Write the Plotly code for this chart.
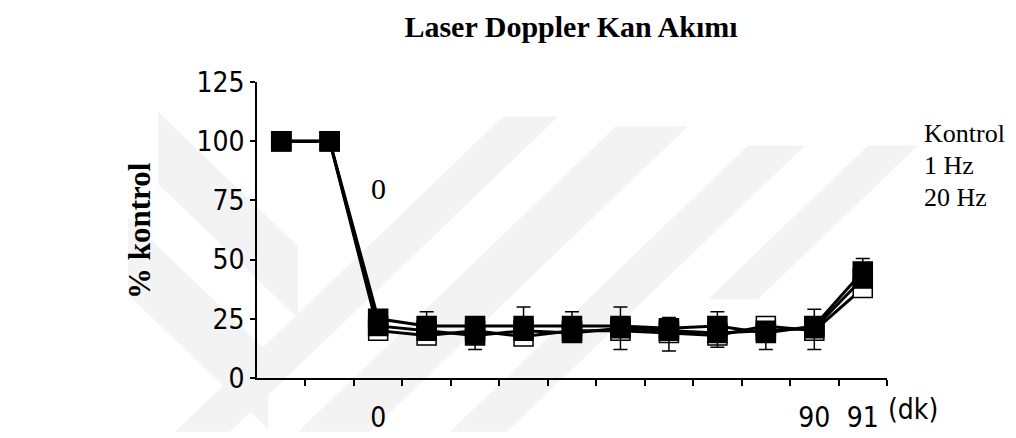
import plotly.graph_objects as go

# ---------------- data ----------------
categories = ["K1", "K2", "0", "10", "20", "30", "40", "50", "60", "70", "80", "90", "91"]
shown_labels = ["0", "90", "91"]

kontrol = [100, 100, 20, 18, 20, 17.5, 20, 20, 19, 18, 22, 20, 38]
hz1 = [100, 100, 22, 20, 18, 20, 19, 21, 20, 19, 20, 21, 42]
hz20 = [100, 100, 25, 22, 22, 22, 22, 22, 21, 22, 19, 22, 45]

hz20_err_up = [0, 0, 0, 6, 0, 8, 6, 8, 4.5, 6, 0, 7, 5.5]
hz1_err_down = [0, 0, 0, 0, 6, 0, 0, 9, 8.6, 6, 8, 9, 0]
zeros = [0] * len(categories)

y_ticks = [0, 25, 50, 75, 100, 125]
series_names = ["Kontrol", "1 Hz", "20 Hz"]

# ---------------- figure ----------------
W, H = 1016, 438
ML, MR, MT, MB = 249, 137, 74, 56
xpos = list(range(len(categories)))

fig = go.Figure()

def add_series(y, name, fill, err_up, err_down):
    fig.add_trace(go.Scatter(
        x=xpos, y=y, name=name, mode="lines+markers",
        line=dict(color="black", width=3),
        marker=dict(symbol="square", size=19, color=fill,
                    line=dict(color="black", width=1.5)),
        error_y=dict(type="data", symmetric=False, array=err_up,
                     arrayminus=err_down, color="black",
                     thickness=1.5, width=7),
        showlegend=False,
    ))

add_series(kontrol, series_names[0], "white", zeros, zeros)
add_series(hz1, series_names[1], "black", zeros, hz1_err_down)
add_series(hz20, series_names[2], "black", hz20_err_up, zeros)

# watermark (very light diagonal bands), pixel space -> paper
def px(xp, yp):
    return (xp - ML) / (W - ML - MR), (H - MB - yp) / (H - MT - MB)

def band(points):
    pts = [px(a, b) for a, b in points]
    path = "M " + " L ".join(f"{a:.4f},{b:.4f}" for a, b in pts) + " Z"
    fig.add_shape(type="path", path=path, xref="paper", yref="paper",
                  fillcolor="#f3f3f3", line=dict(width=0), layer="below")

def slash_band(c1, c2, ytop, ybot):
    band([(c1 - ytop, ytop), (c2 - ytop, ytop), (c2 - ybot, ybot), (c1 - ybot, ybot)])

def back_band(d1, d2, x0, x1):
    band([(x0, x0 - d1), (x1, x1 - d1), (x1, x1 - d2), (x0, x0 - d2)])

slash_band(605, 660, 110, 438)
slash_band(728, 800, 120, 438)
slash_band(880, 937, 140, 438)
slash_band(1000, 1050, 140, 300)
back_band(45, -30, 150, 290)
back_band(-95, -175, 120, 260)

serif = "Liberation Serif, Times New Roman, serif"
sans = "Liberation Sans Narrow, DejaVu Sans Condensed, Arial Narrow, Liberation Sans, sans-serif"

fig.update_layout(
    width=W, height=H,
    margin=dict(l=ML, r=MR, t=MT, b=MB),
    paper_bgcolor="white", plot_bgcolor="rgba(0,0,0,0)",
    title=dict(text="<b>Laser Doppler Kan Akımı</b>", x=563 / W,
               xanchor="center", y=1 - 18 / H, yanchor="middle",
               font=dict(family=serif, size=30, color="black")),
    xaxis=dict(
        range=[-0.5, len(categories) - 0.5],
        tickmode="array",
        tickvals=[categories.index(l) for l in shown_labels],
        ticktext=shown_labels,
        ticks="", showgrid=False, zeroline=False,
        showline=True, linecolor="black", linewidth=1.5,
        tickfont=dict(family=sans, size=28, color="black"),
        ticklabelstandoff=14,
        minor=dict(tickvals=[i + 0.5 for i in xpos], ticks="outside",
                   ticklen=6, tickcolor="black", tickwidth=1.5, showgrid=False),
    ),
    yaxis=dict(
        range=[0, 125], tickmode="array", tickvals=y_ticks,
        ticks="outside", ticklen=5, tickwidth=1.5, tickcolor="black",
        showgrid=False, zeroline=False,
        showline=True, linecolor="black", linewidth=1.5,
        tickfont=dict(family=sans, size=28, color="black"),
    ),
)

annotations = [
    dict(text="<b>% kontrol</b>", textangle=-90, xref="paper", yref="paper",
         x=px(132, 0)[0], y=px(0, 229)[1], xanchor="center", yanchor="middle",
         showarrow=False, font=dict(family=serif, size=31, color="black")),
    dict(text="0", xref="x", yref="y", x=categories.index("0"), y=80,
         showarrow=False, font=dict(family=serif, size=30, color="black")),
    dict(text="(dk)", xref="paper", yref="paper", x=px(878, 0)[0], y=px(0, 415)[1],
         xanchor="left", yanchor="middle", showarrow=False,
         font=dict(family=sans, size=28, color="black")),
]
for name, yp in zip(series_names, [128, 161, 194]):
    annotations.append(dict(text=name, xref="paper", yref="paper",
                            x=px(914, 0)[0], y=px(0, yp)[1],
                            xanchor="left", yanchor="middle", showarrow=False,
                            font=dict(family=serif, size=26, color="black")))
fig.update_layout(annotations=annotations)

fig.write_html("out.html")
